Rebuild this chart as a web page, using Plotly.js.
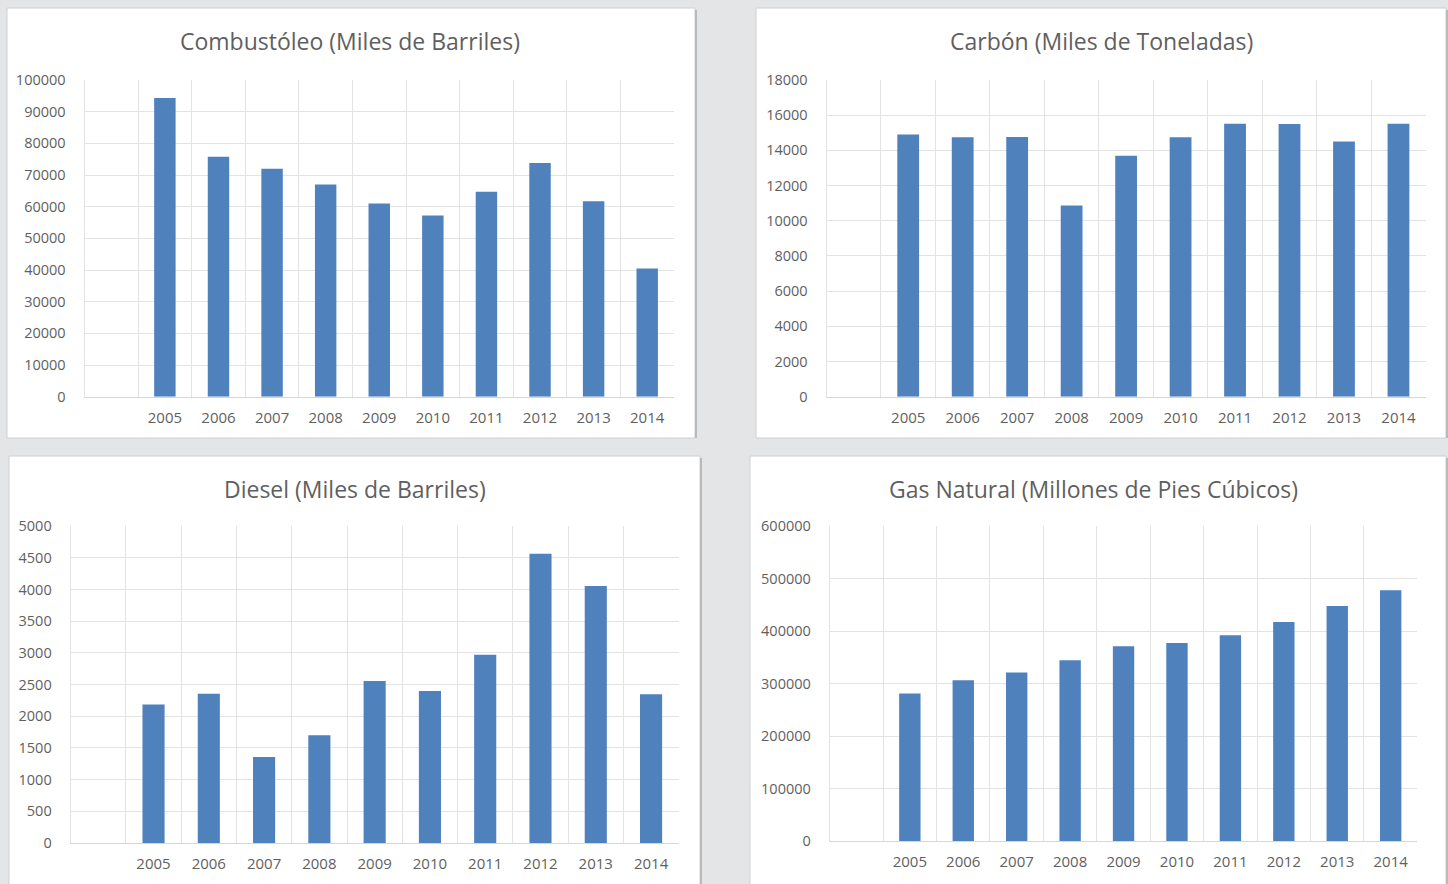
<!DOCTYPE html>
<html>
<head>
<meta charset="utf-8">
<script src="https://cdn.plot.ly/plotly-3.0.1.min.js"></script>
<style>
html,body{margin:0;padding:0;background:#e4e5e7;}
#chart{width:1448px;height:884px;}
</style>
</head>
<body>
<div id="chart"></div>
<script>
// ---- data ----
const years = ["2005","2006","2007","2008","2009","2010","2011","2012","2013","2014"];
const combustoleo = [94300, 75800, 72000, 67000, 61000, 57200, 64700, 73800, 61700, 40500];
const carbon = [14900, 14740, 14760, 10860, 13700, 14740, 15520, 15500, 14510, 15520];
const diesel = [2185, 2358, 1358, 1700, 2558, 2400, 2974, 4568, 4058, 2347];
const gasNatural = [281300, 306700, 321300, 344800, 371400, 377800, 392400, 417800, 448300, 478100];
const titles = ["Combustóleo (Miles de Barriles)", "Carbón (Miles de Toneladas)", "Diesel (Miles de Barriles)", "Gas Natural (Millones de Pies Cúbicos)"];
const yMax = [100000, 18000, 5000, 600000];
const yStep = [10000, 2000, 500, 100000];

// ---- layout geometry (pixels) ----
const W = 1448, H = 884;
const panels = [
  {x0: 7, x1: 695, y0: 8, y1: 438},
  {x0: 756, x1: 1446, y0: 8, y1: 438},
  {x0: 9, x1: 700, y0: 456, y1: 890},
  {x0: 750, x1: 1446, y0: 456, y1: 890}
];
const plots = [
  {x0: 84.5, x1: 674, y0: 80, y1: 396.7, tx: 349.5, ty: 41},
  {x0: 826.5, x1: 1425.7, y0: 80, y1: 396.7, tx: 1101, ty: 41},
  {x0: 70.6, x1: 678.7, y0: 526.3, y1: 843, tx: 354.8, ty: 488.5},
  {x0: 829.7, x1: 1417.4, y0: 526.3, y1: 841.3, tx: 1093, ty: 488.5}
];
const series = [combustoleo, carbon, diesel, gasNatural];

const font = {family: "Open Sans, Noto Sans, sans-serif", color: "#5f5f5f"};
const gridColor = "#e3e3e3";
const barColor = "#4f81bd";

const data = [];
const layout = {
  width: W, height: H,
  margin: {l: 0, r: 0, t: 0, b: 0},
  paper_bgcolor: "#e4e5e7",
  plot_bgcolor: "#ffffff",
  showlegend: false,
  bargap: 0.6,
  shapes: [],
  annotations: []
};

panels.forEach(function(p, i) {
  layout.shapes.push({
    type: "rect", xref: "paper", yref: "paper", layer: "below",
    x0: p.x0 / W, x1: p.x1 / W, y0: 1 - p.y1 / H, y1: 1 - p.y0 / H,
    fillcolor: "#ffffff", line: {color: "#cfd0d2", width: 1}
  });
  layout.shapes.push({
    type: "line", xref: "paper", yref: "paper", layer: "below",
    x0: (p.x1 + 1) / W, x1: (p.x1 + 1) / W, y0: 1 - p.y1 / H, y1: 1 - (p.y0 + 2) / H,
    line: {color: "#b9babc", width: 2}
  });
});

plots.forEach(function(q, i) {
  const n = i + 1;
  const xa = "x" + (n === 1 ? "" : n), ya = "y" + (n === 1 ? "" : n);
  data.push({
    type: "bar", x: years, y: series[i], xaxis: xa, yaxis: ya,
    marker: {color: barColor, line: {width: 0}},
    hoverinfo: "x+y"
  });
  const xk = "xaxis" + (n === 1 ? "" : n), yk = "yaxis" + (n === 1 ? "" : n);
  layout[xk] = {
    domain: [q.x0 / W, q.x1 / W],
    anchor: ya,
    type: "category",
    categoryorder: "array", categoryarray: years,
    range: [-1.5, 9.5],
    tickson: "boundaries",
    showgrid: true, gridcolor: gridColor, gridwidth: 1,
    ticks: "", showline: true, linecolor: "#d6d6d6", linewidth: 1,
    tickfont: Object.assign({size: 15}, font),
    ticklabelstandoff: 7,
    zeroline: false, fixedrange: true
  };
  layout[yk] = {
    domain: [1 - q.y1 / H, 1 - q.y0 / H],
    anchor: xa,
    range: [0, yMax[i]],
    dtick: yStep[i], tick0: 0,
    showgrid: true, gridcolor: gridColor, gridwidth: 1,
    showline: true, linecolor: gridColor, linewidth: 1,
    ticks: "", tickformat: "d",
    tickfont: Object.assign({size: 14.5}, font),
    ticklabelstandoff: 15,
    zeroline: false, fixedrange: true
  };
  layout.annotations.push({
    xref: "paper", yref: "paper",
    x: q.tx / W, y: 1 - q.ty / H,
    xanchor: "center", yanchor: "middle",
    text: titles[i], showarrow: false,
    font: Object.assign({size: 23}, font)
  });
});

Plotly.newPlot("chart", data, layout, {displayModeBar: false, staticPlot: true});
</script>
</body>
</html>
